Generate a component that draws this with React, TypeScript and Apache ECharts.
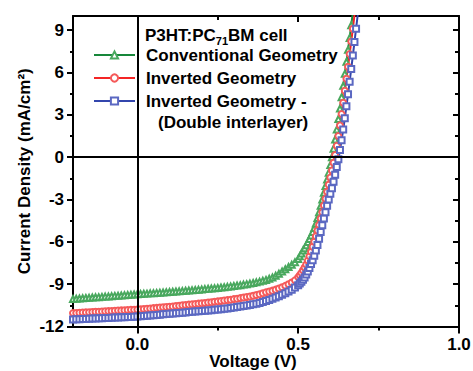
import React, { useEffect, useRef } from "react";
import * as echarts from "echarts";

const voltage = [
  -0.2, -0.19, -0.18, -0.17, -0.16, -0.15, -0.14, -0.13, -0.12, -0.11,
  -0.1, -0.09, -0.08, -0.07, -0.06, -0.05, -0.04, -0.03, -0.02, -0.01,
  0.0, 0.01, 0.02, 0.03, 0.04, 0.05, 0.06, 0.07, 0.08, 0.09,
  0.1, 0.11, 0.12, 0.13, 0.14, 0.15, 0.16, 0.17, 0.18, 0.19,
  0.2, 0.21, 0.22, 0.23, 0.24, 0.25, 0.26, 0.27, 0.28, 0.29,
  0.3, 0.31, 0.32, 0.33, 0.34, 0.35, 0.36, 0.37, 0.38, 0.39,
  0.4, 0.41, 0.42, 0.43, 0.44, 0.45, 0.46, 0.47, 0.48, 0.49,
  0.5,
  0.505, 0.51, 0.515, 0.52, 0.525, 0.53, 0.535, 0.54, 0.545, 0.55,
  0.555, 0.56, 0.565, 0.57, 0.575, 0.58, 0.585, 0.59, 0.595, 0.6,
  0.605, 0.61, 0.615, 0.62, 0.625, 0.63, 0.635, 0.64, 0.645, 0.65,
  0.655, 0.66, 0.665, 0.67, 0.675, 0.68, 0.685, 0.69,
];

const conventional = [
  -10.05, -10.03, -10.02, -10.0, -9.98, -9.97, -9.95, -9.93, -9.92, -9.9,
  -9.88, -9.87, -9.85, -9.83, -9.82, -9.8, -9.78, -9.77, -9.75, -9.73,
  -9.72, -9.7, -9.68, -9.67, -9.65, -9.64, -9.62, -9.6, -9.59, -9.57,
  -9.56, -9.54, -9.52, -9.51, -9.49, -9.47, -9.45, -9.43, -9.41, -9.39,
  -9.37, -9.35, -9.33, -9.31, -9.29, -9.27, -9.24, -9.22, -9.19, -9.16,
  -9.13, -9.1, -9.07, -9.03, -9.0, -8.96, -8.92, -8.87, -8.82, -8.76,
  -8.7, -8.62, -8.52, -8.4, -8.26, -8.1, -7.94, -7.78, -7.62, -7.44,
  -7.22,
  -7.02, -6.82, -6.62, -6.45, -6.25, -6.02, -5.8, -5.55, -5.3, -5.02,
  -4.7, -4.32, -3.9, -3.45, -3.0, -2.52, -2.05, -1.58, -1.1, -0.56,
  0.0, 0.6, 1.25, 1.95, 2.7, 3.45, 4.25, 5.05, 5.9, 6.75,
  7.6, 8.45, 9.35, 10.25, 11.15, 12.05, 12.95, 13.85,
];

const inverted = [
  -11.05, -11.04, -11.02, -11.01, -11.0, -10.99, -10.97, -10.96, -10.95, -10.94,
  -10.92, -10.91, -10.9, -10.88, -10.87, -10.86, -10.85, -10.83, -10.82, -10.81,
  -10.8, -10.78, -10.76, -10.74, -10.72, -10.7, -10.68, -10.66, -10.64, -10.62,
  -10.6, -10.58, -10.55, -10.53, -10.5, -10.48, -10.45, -10.43, -10.4, -10.38,
  -10.35, -10.33, -10.3, -10.28, -10.25, -10.22, -10.19, -10.16, -10.13, -10.1,
  -10.06, -10.03, -9.99, -9.95, -9.91, -9.87, -9.82, -9.77, -9.71, -9.65,
  -9.58, -9.52, -9.46, -9.39, -9.31, -9.22, -9.12, -9.01, -8.88, -8.73,
  -8.5,
  -8.36, -8.2, -8.02, -7.82, -7.6, -7.33, -7.03, -6.7, -6.35, -6.0,
  -5.6, -5.2, -4.8, -4.35, -3.9, -3.42, -2.95, -2.45, -1.95, -1.45,
  -0.95, -0.4, 0.15, 0.8, 1.5, 2.25, 3.05, 3.85, 4.7, 5.55,
  6.4, 7.3, 8.2, 9.1, 10.05, 10.95, 11.85, 12.75,
];

const invertedDouble = [
  -11.5, -11.49, -11.48, -11.47, -11.46, -11.45, -11.44, -11.43, -11.42, -11.41,
  -11.4, -11.39, -11.38, -11.37, -11.36, -11.35, -11.34, -11.33, -11.32, -11.31,
  -11.3, -11.28, -11.26, -11.24, -11.22, -11.2, -11.18, -11.16, -11.14, -11.12,
  -11.1, -11.08, -11.06, -11.04, -11.02, -11.0, -10.98, -10.96, -10.94, -10.92,
  -10.9, -10.88, -10.86, -10.84, -10.81, -10.79, -10.77, -10.74, -10.72, -10.69,
  -10.66, -10.62, -10.59, -10.55, -10.51, -10.47, -10.43, -10.38, -10.33, -10.27,
  -10.2, -10.12, -10.04, -9.95, -9.85, -9.75, -9.64, -9.52, -9.39, -9.24,
  -9.07,
  -8.96, -8.83, -8.68, -8.52, -8.32, -8.1, -7.85, -7.58, -7.3, -6.98,
  -6.62, -6.22, -5.78, -5.3, -4.82, -4.35, -3.9, -3.45, -3.0, -2.6,
  -2.2, -1.75, -1.25, -0.7, -0.15, 0.5, 1.2, 1.95, 2.75, 3.6,
  4.45, 5.35, 6.25, 7.2, 8.15, 9.1, 10.05, 11.0,
];

const seriesNames = ["Conventional Geometry", "Inverted Geometry", "Inverted Geometry -"];
const xMajorTicks = [0, 0.5, 1.0];
const xMinorTicks = [0.25, 0.75];
const yMajorTicks = [-12, -9, -6, -3, 0, 3, 6, 9];
const yMinorTicks = [-10.5, -7.5, -4.5, -1.5, 1.5, 4.5, 7.5];

const FONT = "'Liberation Sans', Arial, Helvetica, sans-serif";

function pairs(ys: number[]) {
  return voltage.map((v, i) => [v, ys[i]]);
}

export default function App() {
  const ref = useRef<HTMLDivElement>(null);
  useEffect(() => {
    document.body.style.margin = "0";
    if (!ref.current) return;
    const chart = echarts.init(ref.current, undefined, { renderer: "svg" });
    const axisLine = { show: true, onZero: false, lineStyle: { color: "#000", width: 2 } };
    const noLine = { show: false, onZero: false };
    const xBase = { type: "value", min: -0.2, max: 1.0, splitLine: { show: false } };
    const yBase = { type: "value", min: -12, max: 10, splitLine: { show: false } };
    const labelStyle = { color: "#000", fontSize: 17, fontWeight: "bold", fontFamily: FONT };
    const tickStyle = { color: "#000", width: 2 };
    const mk = (name: string, data: number[], line: string, mark: string, symbol: string, extra: any = {}) => ({
      name,
      type: "line",
      data: pairs(data),
      xAxisIndex: 0,
      yAxisIndex: 0,
      symbol,
      symbolSize: 6,
      showSymbol: true,
      showAllSymbol: true,
      clip: true,
      lineStyle: { color: line, width: 2 },
      itemStyle: { color: mark, borderColor: mark, borderWidth: 1 },
      ...extra,
    });
    chart.setOption({
      animation: false,
      backgroundColor: "#fff",
      grid: { left: 73, right: 14, top: 16, bottom: 44.5, containLabel: false, outerBoundsMode: "none" },
      legend: {
        show: true,
        orient: "vertical",
        left: 93,
        top: 45,
        padding: 0,
        itemWidth: 41,
        itemHeight: 9,
        itemGap: 3,
        selectedMode: false,
        data: seriesNames,
        textStyle: { ...labelStyle, lineHeight: 20, padding: [0, 0, 0, 6] },
      },
      xAxis: [
        {
          ...xBase,
          position: "bottom",
          axisLine,
          axisTick: { show: true, inside: false, length: 7, customValues: xMajorTicks, lineStyle: tickStyle },
          axisLabel: { ...labelStyle, margin: 9, customValues: xMajorTicks, formatter: (v: number) => v.toFixed(1) },
          name: "Voltage (V)",
          nameLocation: "middle",
          nameGap: 26,
          nameMoveOverlap: false,
          nameTextStyle: { ...labelStyle, lineHeight: 17, padding: [0, 26, 0, 0] },
        },
        {
          ...xBase,
          position: "bottom",
          axisLine: noLine,
          axisTick: { show: true, inside: false, length: 4, customValues: xMinorTicks, lineStyle: tickStyle },
          axisLabel: { show: false },
        },
        {
          ...xBase,
          position: "top",
          axisLine,
          axisTick: { show: true, inside: true, length: 6, customValues: [0, 0.5], lineStyle: tickStyle },
          axisLabel: { show: false },
        },
        {
          ...xBase,
          position: "top",
          axisLine: noLine,
          axisTick: { show: true, inside: true, length: 4, customValues: xMinorTicks, lineStyle: tickStyle },
          axisLabel: { show: false },
        },
      ],
      yAxis: [
        {
          ...yBase,
          position: "left",
          axisLine,
          axisTick: { show: true, inside: false, length: 6, customValues: yMajorTicks, lineStyle: tickStyle },
          axisLabel: { ...labelStyle, margin: 9, customValues: yMajorTicks, formatter: (v: number) => String(v) },
          name: "Current Density (mA/cm²)",
          nameLocation: "middle",
          nameGap: 40,
          nameRotate: 90,
          nameMoveOverlap: false,
          nameTextStyle: { ...labelStyle },
        },
        {
          ...yBase,
          position: "left",
          axisLine: noLine,
          axisTick: { show: true, inside: false, length: 3, customValues: yMinorTicks, lineStyle: tickStyle },
          axisLabel: { show: false },
        },
        {
          ...yBase,
          position: "right",
          axisLine,
          axisTick: { show: true, inside: true, length: 6, customValues: yMajorTicks, lineStyle: tickStyle },
          axisLabel: { show: false },
        },
        {
          ...yBase,
          position: "right",
          axisLine: noLine,
          axisTick: { show: true, inside: true, length: 4, customValues: yMinorTicks, lineStyle: tickStyle },
          axisLabel: { show: false },
        },
      ],
      graphic: [
        {
          type: "text",
          x: 145,
          y: 35.5,
          style: {
            text: "{a|P3HT:PC}{b|71}{a|BM cell}",
            textVerticalAlign: "middle",
            verticalAlign: "middle",
            rich: {
              a: { fontSize: 17, fontWeight: "bold", fontFamily: FONT, fill: "#000", lineHeight: 18, verticalAlign: "middle" },
              b: { fontSize: 11, fontWeight: "bold", fontFamily: FONT, fill: "#000", lineHeight: 11, padding: [10, 0, 0, 0], verticalAlign: "middle" },
            },
          },
        },
        {
          type: "text",
          x: 158,
          y: 122,
          style: {
            text: "(Double interlayer)",
            fill: "#000",
            font: `bold 17px ${FONT}`,
            textVerticalAlign: "middle",
            verticalAlign: "middle",
          },
        },
      ],
      series: [
        mk(seriesNames[0], conventional, "#17873a", "#49a85e", "emptyTriangle", {
          markLine: {
            silent: true,
            symbol: ["none", "none"],
            label: { show: false },
            lineStyle: { color: "#000", width: 2, type: "solid" },
            data: [{ xAxis: 0 }, { yAxis: 0 }],
          },
        }),
        mk(seriesNames[1], inverted, "#f42525", "#f55a5a", "emptyCircle"),
        mk(seriesNames[2], invertedDouble, "#3346ad", "#5b68c2", "emptyRect"),
      ],
    });
    return () => chart.dispose();
  }, []);
  return <div ref={ref} style={{ width: 473, height: 371 }} />;
}
